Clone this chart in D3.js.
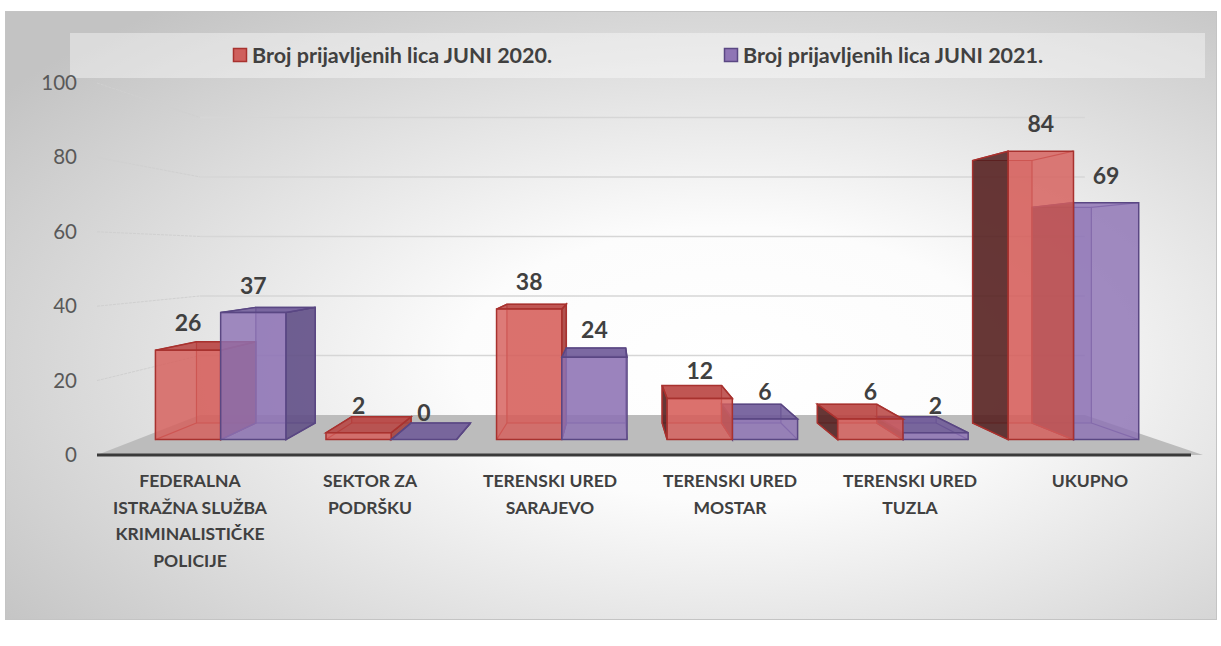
<!DOCTYPE html>
<html>
<head>
<meta charset="utf-8">
<script src="https://cdn.jsdelivr.net/npm/d3@7"></script>
<style>
  html, body { margin: 0; padding: 0; background: #ffffff; }
  text { font-family: Lato, "Open Sans", sans-serif; }
</style>
</head>
<body>
<div id="chart"></div>
<script>
// data
const categories = ["FIS", "SEKTOR", "SARAJEVO", "MOSTAR", "TUZLA", "UKUPNO"];
const categoryLines = [
  ["FEDERALNA", "ISTRAŽNA SLUŽBA", "KRIMINALISTIČKE", "POLICIJE"],
  ["SEKTOR ZA", "PODRŠKU"],
  ["TERENSKI URED", "SARAJEVO"],
  ["TERENSKI URED", "MOSTAR"],
  ["TERENSKI URED", "TUZLA"],
  ["UKUPNO"]
];
const seriesNames = ["Broj prijavljenih lica JUNI 2020.", "Broj prijavljenih lica JUNI 2021."];
const values2020 = [26, 2, 38, 12, 6, 84];
const values2021 = [37, 0, 24, 6, 2, 69];
const yTicks = [0, 20, 40, 60, 80, 100];

const W = 1221, H = 646;
const svg = d3.select("#chart").append("svg").attr("width", W).attr("height", H);

// background gradient
const defs = svg.append("defs");
const bg = defs.append("radialGradient").attr("id", "bg")
  .attr("cx", 0.6).attr("cy", 0.58).attr("r", 0.75);
bg.append("stop").attr("offset", "0%").attr("stop-color", "#ffffff");
bg.append("stop").attr("offset", "30%").attr("stop-color", "#fcfcfc");
bg.append("stop").attr("offset", "100%").attr("stop-color", "#c3c3c3");

svg.append("rect")
  .attr("x", 5.5).attr("y", 11.5).attr("width", 1211).attr("height", 608)
  .attr("fill", "url(#bg)").attr("stroke", "#c4c4c4");

// legend band
svg.append("rect")
  .attr("x", 70).attr("y", 33).attr("width", 1135).attr("height", 45)
  .attr("fill", "#ffffff").attr("fill-opacity", 0.4);

// perspective helpers
const vp = { x: 612, y: 255 };
const S_FRONT = 0.923, S_BACK = 0.84, S_WALL = 0.8;
const yFront = d3.scaleLinear().domain([0, 100]).range([455, 83]);
const x0 = d3.scaleBand().domain(d3.range(categories.length))
  .range([97, 1203]).paddingInner(0.235).paddingOuter(0.11);
const x1 = d3.scaleBand().domain([0, 1]).range([0, x0.bandwidth()]);
// category label positions (flat, below the floor)
const xLabel = d3.scaleBand().domain(d3.range(categories.length)).range([100, 1180]);

function proj(u, v, s) {
  return [vp.x + (u - vp.x) * s, vp.y + (yFront(v) - vp.y) * s];
}
const uL = x0.range()[0], uR = x0.range()[1];

// back wall grid + left wall lines
const grid = svg.append("g");
yTicks.forEach(function (t) {
  const a = proj(uL, t, 1), b = proj(uL, t, S_WALL), c = proj(uR, t, S_WALL);
  if (t > 0) {
    grid.append("line")
      .attr("x1", b[0]).attr("y1", b[1]).attr("x2", c[0]).attr("y2", c[1])
      .attr("stroke", "#d6d6d6").attr("stroke-width", 1.5);
    grid.append("line")
      .attr("x1", a[0]).attr("y1", a[1]).attr("x2", b[0]).attr("y2", b[1])
      .attr("stroke", "#d0d0d0").attr("stroke-width", 1)
      .attr("stroke-dasharray", "3,1");
  }
});

// y labels
svg.append("g").selectAll("text").data(yTicks).join("text")
  .attr("x", 77)
  .attr("y", function (d) { return yFront(d) + 7; })
  .attr("text-anchor", "end")
  .style("font-size", "20.5px")
  .style("fill", "#595959")
  .text(function (d) { return d; });

// floor
const floorPts = [proj(uL, 0, 1), proj(uL, 0, S_WALL), proj(uR, 0, S_WALL), proj(uR, 0, 1)];
svg.append("polygon")
  .attr("points", floorPts.map(function (p) { return p.join(","); }).join(" "))
  .attr("fill", "#bcbcbc");

// axis line on the front edge
svg.append("line")
  .attr("x1", floorPts[0][0]).attr("y1", floorPts[0][1])
  .attr("x2", floorPts[3][0] - 12).attr("y2", floorPts[3][1])
  .attr("stroke", "#3a3a3a").attr("stroke-width", 3);

// bar styles per series
const styles = [
  { front: "#d65e5a", top: "#b7423f", right: "#a53d3a", left: "#4f1d1d", edge: "#a8322f", legend: "#cf605d" },
  { front: "#8d73b4", top: "#6c5796", right: "#5e4c84", left: "#362a4d", edge: "#5a4783", legend: "#8f75b5" }
];

const bars = [];
categories.forEach(function (c, i) {
  [values2020[i], values2021[i]].forEach(function (v, j) {
    const u0 = x0(i) + x1(j), u1 = u0 + x1.bandwidth();
    bars.push({ i: i, j: j, v: v, u0: u0, u1: u1 });
  });
});
// draw far-from-centre bars first
bars.sort(function (a, b) {
  return Math.abs((b.u0 + b.u1) / 2 - vp.x) - Math.abs((a.u0 + a.u1) / 2 - vp.x);
});

const line = function (pts) { return "M" + pts.map(function (p) { return p.join(","); }).join("L") + "Z"; };
const barG = svg.append("g");

bars.forEach(function (d) {
  const st = styles[d.j];
  const fbl = proj(d.u0, 0, S_FRONT), fbr = proj(d.u1, 0, S_FRONT);
  const ftl = proj(d.u0, d.v, S_FRONT), ftr = proj(d.u1, d.v, S_FRONT);
  const bbl = proj(d.u0, 0, S_BACK), bbr = proj(d.u1, 0, S_BACK);
  const btl = proj(d.u0, d.v, S_BACK), btr = proj(d.u1, d.v, S_BACK);
  const g = barG.append("g");

  // hidden edges seen through the glass
  g.append("path").attr("d", line([bbl, bbr, btr, btl]))
    .attr("fill", st.front).attr("fill-opacity", 0.35)
    .attr("stroke", st.edge).attr("stroke-width", 1.2);
  [[fbl, bbl], [fbr, bbr], [ftl, btl], [ftr, btr]].forEach(function (e) {
    g.append("line").attr("x1", e[0][0]).attr("y1", e[0][1]).attr("x2", e[1][0]).attr("y2", e[1][1])
      .attr("stroke", st.edge).attr("stroke-width", 1.2);
  });

  if (d.u0 > vp.x) {
    g.append("path").attr("d", line([fbl, ftl, btl, bbl]))
      .attr("fill", st.left).attr("fill-opacity", 0.85)
      .attr("stroke", st.edge).attr("stroke-width", 1.5);
  }
  if (d.u1 < vp.x) {
    g.append("path").attr("d", line([fbr, ftr, btr, bbr]))
      .attr("fill", st.right).attr("fill-opacity", 0.85)
      .attr("stroke", st.edge).attr("stroke-width", 1.5);
  }
  if (yFront(d.v) > vp.y) {
    g.append("path").attr("d", line([ftl, ftr, btr, btl]))
      .attr("fill", st.top).attr("fill-opacity", 0.85)
      .attr("stroke", st.edge).attr("stroke-width", 1.5);
  }
  if (d.v > 0) {
    g.append("path").attr("d", line([fbl, fbr, ftr, ftl]))
      .attr("fill", st.front).attr("fill-opacity", 0.82)
      .attr("stroke", st.edge).attr("stroke-width", 1.5);
  }
});

// value labels
const labelG = svg.append("g");
bars.forEach(function (d) {
  const l = proj(d.u0, d.v, S_FRONT), r = proj(d.u1, d.v, S_FRONT);
  labelG.append("text")
    .attr("x", (l[0] + r[0]) / 2)
    .attr("y", l[1] - 19)
    .attr("text-anchor", "middle")
    .style("font-size", "23px")
    .style("font-weight", "bold")
    .style("fill", "#404040")
    .text(d.v);
});

// category labels
const catG = svg.append("g");
categoryLines.forEach(function (lines, i) {
  const cx = xLabel(i) + xLabel.bandwidth() / 2;
  const t = catG.append("text")
    .attr("text-anchor", "middle")
    .style("font-size", "17.5px")
    .style("font-weight", "bold")
    .style("fill", "#404040");
  lines.forEach(function (s, k) {
    t.append("tspan").attr("x", cx).attr("y", 487 + k * 26.5).text(s);
  });
});

// legend
const legendX = [233, 724];
const legG = svg.append("g");
seriesNames.forEach(function (name, j) {
  legG.append("rect")
    .attr("x", legendX[j] + 0.5).attr("y", 48.5).attr("width", 13).attr("height", 13)
    .attr("fill", styles[j].legend).attr("stroke", styles[j].edge).attr("stroke-width", 1.5);
  legG.append("text")
    .attr("x", legendX[j] + 19).attr("y", 63)
    .style("font-size", "21.5px")
    .style("font-weight", "bold")
    .style("fill", "#404040")
    .text(name);
});
</script>
</body>
</html>
